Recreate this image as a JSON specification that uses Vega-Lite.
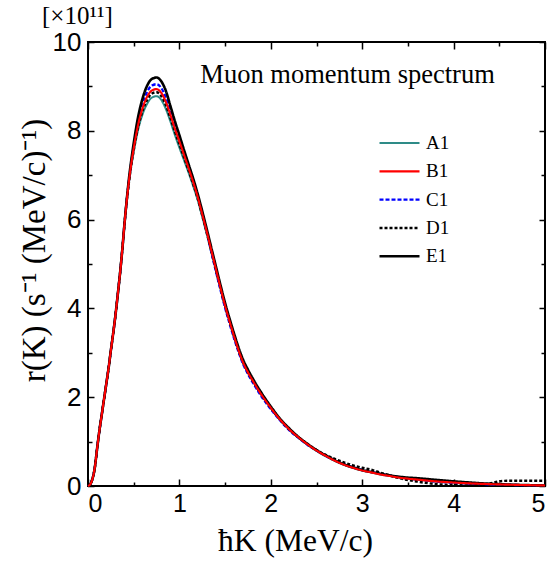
{
  "$schema": "https://vega.github.io/schema/vega-lite/v6.json",
  "width": 457,
  "height": 444,
  "autosize": {"type": "none"},
  "padding": {"left": 88, "top": 42, "right": 9, "bottom": 80},
  "background": "white",
  "config": {"view": {"stroke": "black", "strokeWidth": 2}, "font": "Liberation Serif"},
  "title": {"text": "[×10¹¹]", "anchor": "start", "frame": "group", "dx": -46, "offset": 0, "font": "Liberation Serif", "fontSize": 25, "fontWeight": "normal", "color": "black"},
  "data": {"values": [
    {"x": 0, "A1": 0, "B1": 0, "C1": 0, "D1": 0, "E1": 0},
    {"x": 0.025, "A1": 0.04, "B1": 0.04, "C1": 0.04, "D1": 0.04, "E1": 0.04},
    {"x": 0.05, "A1": 0.17, "B1": 0.17, "C1": 0.17, "D1": 0.17, "E1": 0.17},
    {"x": 0.075, "A1": 0.42, "B1": 0.42, "C1": 0.42, "D1": 0.42, "E1": 0.42},
    {"x": 0.1, "A1": 0.85, "B1": 0.85, "C1": 0.85, "D1": 0.85, "E1": 0.85},
    {"x": 0.125, "A1": 1.25, "B1": 1.25, "C1": 1.25, "D1": 1.25, "E1": 1.25},
    {"x": 0.15, "A1": 1.6, "B1": 1.6, "C1": 1.6, "D1": 1.6, "E1": 1.6},
    {"x": 0.175, "A1": 1.95, "B1": 1.95, "C1": 1.95, "D1": 1.95, "E1": 1.95},
    {"x": 0.2, "A1": 2.3, "B1": 2.3, "C1": 2.3, "D1": 2.3, "E1": 2.3},
    {"x": 0.225, "A1": 2.65, "B1": 2.65, "C1": 2.65, "D1": 2.65, "E1": 2.65},
    {"x": 0.25, "A1": 3.05, "B1": 3.05, "C1": 3.05, "D1": 3.05, "E1": 3.05},
    {"x": 0.275, "A1": 3.43, "B1": 3.43, "C1": 3.43, "D1": 3.43, "E1": 3.43},
    {"x": 0.3, "A1": 3.84, "B1": 3.84, "C1": 3.84, "D1": 3.84, "E1": 3.84},
    {"x": 0.325, "A1": 4.3, "B1": 4.3, "C1": 4.3, "D1": 4.3, "E1": 4.3},
    {"x": 0.35, "A1": 4.78, "B1": 4.78, "C1": 4.78, "D1": 4.78, "E1": 4.78},
    {"x": 0.375, "A1": 5.32, "B1": 5.32, "C1": 5.32, "D1": 5.32, "E1": 5.32},
    {"x": 0.4, "A1": 5.92, "B1": 5.92, "C1": 5.92, "D1": 5.92, "E1": 5.92},
    {"x": 0.425, "A1": 6.44, "B1": 6.45, "C1": 6.46, "D1": 6.45, "E1": 6.47},
    {"x": 0.45, "A1": 6.86, "B1": 6.9, "C1": 6.92, "D1": 6.88, "E1": 6.96},
    {"x": 0.475, "A1": 7.22, "B1": 7.28, "C1": 7.31, "D1": 7.26, "E1": 7.36},
    {"x": 0.5, "A1": 7.52, "B1": 7.6, "C1": 7.65, "D1": 7.57, "E1": 7.72},
    {"x": 0.55, "A1": 8.04, "B1": 8.15, "C1": 8.22, "D1": 8.1, "E1": 8.33},
    {"x": 0.6, "A1": 8.39, "B1": 8.53, "C1": 8.62, "D1": 8.47, "E1": 8.75},
    {"x": 0.65, "A1": 8.62, "B1": 8.78, "C1": 8.89, "D1": 8.71, "E1": 9.03},
    {"x": 0.7, "A1": 8.75, "B1": 8.91, "C1": 9.02, "D1": 8.84, "E1": 9.17},
    {"x": 0.75, "A1": 8.78, "B1": 8.94, "C1": 9.05, "D1": 8.87, "E1": 9.2},
    {"x": 0.8, "A1": 8.7, "B1": 8.86, "C1": 8.97, "D1": 8.79, "E1": 9.12},
    {"x": 0.85, "A1": 8.5, "B1": 8.66, "C1": 8.76, "D1": 8.59, "E1": 8.91},
    {"x": 0.9, "A1": 8.22, "B1": 8.37, "C1": 8.47, "D1": 8.3, "E1": 8.57},
    {"x": 0.95, "A1": 7.91, "B1": 8.05, "C1": 8.13, "D1": 7.99, "E1": 8.22},
    {"x": 1.0, "A1": 7.62, "B1": 7.76, "C1": 7.83, "D1": 7.7, "E1": 7.9},
    {"x": 1.05, "A1": 7.34, "B1": 7.46, "C1": 7.52, "D1": 7.41, "E1": 7.57},
    {"x": 1.1, "A1": 7.06, "B1": 7.16, "C1": 7.21, "D1": 7.11, "E1": 7.25},
    {"x": 1.15, "A1": 6.76, "B1": 6.85, "C1": 6.89, "D1": 6.81, "E1": 6.93},
    {"x": 1.2, "A1": 6.44, "B1": 6.51, "C1": 6.54, "D1": 6.48, "E1": 6.58},
    {"x": 1.25, "A1": 6.06, "B1": 6.12, "C1": 6.14, "D1": 6.1, "E1": 6.19},
    {"x": 1.3, "A1": 5.67, "B1": 5.72, "C1": 5.72, "D1": 5.7, "E1": 5.78},
    {"x": 1.35, "A1": 5.26, "B1": 5.3, "C1": 5.26, "D1": 5.29, "E1": 5.36},
    {"x": 1.4, "A1": 4.85, "B1": 4.88, "C1": 4.83, "D1": 4.87, "E1": 4.94},
    {"x": 1.45, "A1": 4.44, "B1": 4.46, "C1": 4.41, "D1": 4.46, "E1": 4.52},
    {"x": 1.5, "A1": 4.04, "B1": 4.06, "C1": 4.01, "D1": 4.06, "E1": 4.12},
    {"x": 1.55, "A1": 3.69, "B1": 3.7, "C1": 3.65, "D1": 3.7, "E1": 3.76},
    {"x": 1.6, "A1": 3.35, "B1": 3.36, "C1": 3.31, "D1": 3.36, "E1": 3.42},
    {"x": 1.65, "A1": 3.03, "B1": 3.04, "C1": 3.0, "D1": 3.04, "E1": 3.1},
    {"x": 1.7, "A1": 2.76, "B1": 2.77, "C1": 2.73, "D1": 2.77, "E1": 2.83},
    {"x": 1.75, "A1": 2.55, "B1": 2.56, "C1": 2.52, "D1": 2.56, "E1": 2.62},
    {"x": 1.8, "A1": 2.37, "B1": 2.38, "C1": 2.34, "D1": 2.38, "E1": 2.43},
    {"x": 1.9, "A1": 2.04, "B1": 2.05, "C1": 2.01, "D1": 2.05, "E1": 2.09},
    {"x": 2.0, "A1": 1.75, "B1": 1.76, "C1": 1.73, "D1": 1.76, "E1": 1.79},
    {"x": 2.1, "A1": 1.49, "B1": 1.5, "C1": 1.48, "D1": 1.5, "E1": 1.52},
    {"x": 2.2, "A1": 1.27, "B1": 1.28, "C1": 1.26, "D1": 1.28, "E1": 1.3},
    {"x": 2.3, "A1": 1.09, "B1": 1.1, "C1": 1.09, "D1": 1.1, "E1": 1.11},
    {"x": 2.4, "A1": 0.93, "B1": 0.94, "C1": 0.93, "D1": 0.95, "E1": 0.95},
    {"x": 2.5, "A1": 0.79, "B1": 0.8, "C1": 0.8, "D1": 0.81, "E1": 0.81},
    {"x": 2.6, "A1": 0.67, "B1": 0.68, "C1": 0.68, "D1": 0.7, "E1": 0.69},
    {"x": 2.7, "A1": 0.565, "B1": 0.57, "C1": 0.58, "D1": 0.61, "E1": 0.58},
    {"x": 2.8, "A1": 0.475, "B1": 0.48, "C1": 0.49, "D1": 0.53, "E1": 0.49},
    {"x": 2.9, "A1": 0.405, "B1": 0.41, "C1": 0.42, "D1": 0.465, "E1": 0.42},
    {"x": 3.0, "A1": 0.345, "B1": 0.35, "C1": 0.36, "D1": 0.41, "E1": 0.36},
    {"x": 3.1, "A1": 0.305, "B1": 0.305, "C1": 0.315, "D1": 0.365, "E1": 0.315},
    {"x": 3.2, "A1": 0.26, "B1": 0.26, "C1": 0.27, "D1": 0.3, "E1": 0.275},
    {"x": 3.3, "A1": 0.225, "B1": 0.225, "C1": 0.235, "D1": 0.24, "E1": 0.24},
    {"x": 3.4, "A1": 0.19, "B1": 0.19, "C1": 0.2, "D1": 0.18, "E1": 0.21},
    {"x": 3.5, "A1": 0.165, "B1": 0.165, "C1": 0.17, "D1": 0.135, "E1": 0.19},
    {"x": 3.6, "A1": 0.145, "B1": 0.145, "C1": 0.145, "D1": 0.1, "E1": 0.175},
    {"x": 3.8, "A1": 0.105, "B1": 0.105, "C1": 0.1, "D1": 0.045, "E1": 0.14},
    {"x": 4.0, "A1": 0.078, "B1": 0.078, "C1": 0.07, "D1": 0.02, "E1": 0.105},
    {"x": 4.2, "A1": 0.057, "B1": 0.057, "C1": 0.05, "D1": 0.012, "E1": 0.075},
    {"x": 4.3, "A1": 0.049, "B1": 0.049, "C1": 0.043, "D1": 0.025, "E1": 0.062},
    {"x": 4.4, "A1": 0.042, "B1": 0.042, "C1": 0.037, "D1": 0.06, "E1": 0.05},
    {"x": 4.5, "A1": 0.036, "B1": 0.036, "C1": 0.031, "D1": 0.105, "E1": 0.04},
    {"x": 4.6, "A1": 0.03, "B1": 0.03, "C1": 0.026, "D1": 0.118, "E1": 0.032},
    {"x": 4.8, "A1": 0.02, "B1": 0.02, "C1": 0.018, "D1": 0.12, "E1": 0.02},
    {"x": 5.0, "A1": 0.012, "B1": 0.012, "C1": 0.012, "D1": 0.12, "E1": 0.012}
  ]},
  "layer": [
    {
      "transform": [{"fold": ["A1", "C1", "D1", "E1", "B1"], "as": ["series", "value"]}],
      "mark": {"type": "line", "interpolate": "monotone"},
      "encoding": {
        "x": {"field": "x", "type": "quantitative", "scale": {"domain": [0, 5], "nice": false, "zero": false},
          "axis": {"orient": "bottom", "values": [0, 1, 2, 3, 4, 5], "grid": false, "domain": false, "tickSize": -7, "tickWidth": 1.5, "tickColor": "black",
            "labelFont": "Liberation Sans", "labelFontSize": 25, "labelColor": "black", "labelPadding": 12,
            "title": "ħK (MeV/c)", "titleFont": "Liberation Serif", "titleFontSize": 31.5, "titleFontWeight": "normal", "titleColor": "black", "titlePadding": 9, "titleX": 207}},
        "y": {"field": "value", "type": "quantitative", "scale": {"domain": [0, 10], "nice": false},
          "axis": {"orient": "left", "values": [0, 2, 4, 6, 8, 10], "grid": false, "domain": false, "tickSize": -6, "tickWidth": 1.5, "tickColor": "black",
            "labelFont": "Liberation Sans", "labelFontSize": 26, "labelColor": "black", "labelPadding": 13,
            "title": "r(K) (s⁻¹ (MeV/c)⁻¹)", "titleFont": "Liberation Serif", "titleFontSize": 33, "titleFontWeight": "normal", "titleColor": "black", "titlePadding": 1, "titleY": 208}},
        "color": {"field": "series", "type": "nominal",
          "scale": {"domain": ["A1", "B1", "C1", "D1", "E1"], "range": ["#2E8B87", "#FF0000", "#0000FF", "#000000", "#000000"]},
          "legend": {"title": null, "orient": "none", "legendX": 290, "legendY": 91, "labelFont": "Liberation Serif", "labelFontSize": 19, "labelColor": "black", "symbolSize": 1600, "symbolType": "stroke", "labelOffset": 5, "clipHeight": 20, "rowPadding": 8.3}},
        "strokeDash": {"field": "series", "type": "nominal",
          "scale": {"domain": ["A1", "B1", "C1", "D1", "E1"], "range": [[1, 0], [1, 0], [4, 2], [3, 2], [1, 0]]}},
        "strokeWidth": {"field": "series", "type": "nominal",
          "scale": {"domain": ["A1", "B1", "C1", "D1", "E1"], "range": [2, 2.6, 1.5, 1.5, 1.6]}}
      }
    },
    {
      "mark": {"type": "line", "opacity": 0},
      "encoding": {
        "x": {"field": "x", "type": "quantitative", "axis": {"orient": "top", "values": [0, 1, 2, 3, 4, 5], "labels": false, "title": null, "grid": false, "domain": false, "tickSize": -7, "tickWidth": 1.5, "tickColor": "black"}},
        "y": {"field": "B1", "type": "quantitative", "axis": {"orient": "right", "values": [0, 2, 4, 6, 8, 10], "labels": false, "title": null, "grid": false, "domain": false, "tickSize": -6, "tickWidth": 1.5, "tickColor": "black"}}
      }
    },
    {
      "mark": {"type": "line", "opacity": 0},
      "encoding": {
        "x": {"field": "x", "type": "quantitative", "axis": {"orient": "bottom", "values": [0.5, 1.5, 2.5, 3.5, 4.5], "labels": false, "title": null, "grid": false, "domain": false, "tickSize": -4, "tickWidth": 1.5, "tickColor": "black"}},
        "y": {"field": "B1", "type": "quantitative", "axis": {"orient": "left", "values": [1, 3, 5, 7, 9], "labels": false, "title": null, "grid": false, "domain": false, "tickSize": -4, "tickWidth": 1.5, "tickColor": "black"}}
      }
    },
    {
      "mark": {"type": "line", "opacity": 0},
      "encoding": {
        "x": {"field": "x", "type": "quantitative", "axis": {"orient": "top", "values": [0.5, 1.5, 2.5, 3.5, 4.5], "labels": false, "title": null, "grid": false, "domain": false, "tickSize": -4, "tickWidth": 1.5, "tickColor": "black"}},
        "y": {"field": "B1", "type": "quantitative", "axis": {"orient": "right", "values": [1, 3, 5, 7, 9], "labels": false, "title": null, "grid": false, "domain": false, "tickSize": -4, "tickWidth": 1.5, "tickColor": "black"}}
      }
    },
    {
      "data": {"values": [{}]},
      "mark": {"type": "text", "font": "Liberation Serif", "fontSize": 26.5, "align": "center", "baseline": "alphabetic", "color": "black"},
      "encoding": {
        "x": {"datum": 2.84, "type": "quantitative", "axis": null},
        "y": {"datum": 9.07, "type": "quantitative", "axis": null},
        "text": {"value": "Muon momentum spectrum"}
      }
    }
  ],
  "resolve": {"axis": {"x": "independent", "y": "independent"}}
}
